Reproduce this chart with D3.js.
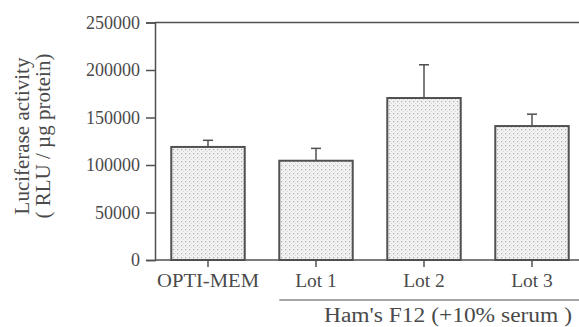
<!DOCTYPE html>
<html>
<head>
<meta charset="utf-8">
<script src="https://cdn.jsdelivr.net/npm/d3@7"></script>
<style>
  html, body { margin: 0; padding: 0; background: #fff; }
  svg { display: block; }
  text { font-family: "Liberation Serif", "Times New Roman", serif; fill: #4a4a4a; }
</style>
</head>
<body>
<svg id="chart" width="579" height="327"></svg>
<script>
const categories = ["OPTI-MEM", "Lot 1", "Lot 2", "Lot 3"];
const values = [119000, 104500, 170500, 141000];
const errors = [7000, 13000, 35000, 12500];
const yTicks = [0, 50000, 100000, 150000, 200000, 250000];
const yLabelLines = ["Luciferase activity", "( RLU / \u00b5g protein)"];
const groupLabel = "Ham's F12 (+10% serum )";
const groupMembers = ["Lot 1", "Lot 2", "Lot 3"];

const W = 579, H = 327;
const svg = d3.select("#chart");
const ink = "#505050";

const x = d3.scaleBand().domain(categories).range([154, 586]).paddingInner(0.32).paddingOuter(0.16);
const y = d3.scaleLinear().domain([0, 250000]).range([260, 22.5]);

// pattern
const defs = svg.append("defs");
const pat = defs.append("pattern").attr("id", "dots").attr("patternUnits", "userSpaceOnUse")
  .attr("width", 4).attr("height", 4);
pat.append("rect").attr("width", 4).attr("height", 4).attr("fill", "#f2f2f2");
pat.append("rect").attr("x", 1).attr("y", 1).attr("width", 1.2).attr("height", 1.2).attr("fill", "#acacac");
pat.append("rect").attr("x", 3).attr("y", 3).attr("width", 1).attr("height", 1).attr("fill", "#d2d2d2");

// bars
svg.append("g").selectAll("rect").data(categories).join("rect")
  .attr("x", d => x(d))
  .attr("y", (d, i) => y(values[i]))
  .attr("width", x.bandwidth())
  .attr("height", (d, i) => y(0) - y(values[i]))
  .attr("fill", "url(#dots)")
  .attr("stroke", ink)
  .attr("stroke-width", 2);

// error bars
const eg = svg.append("g").attr("stroke", ink).attr("stroke-width", 1.5);
categories.forEach((c, i) => {
  const cx = x(c) + x.bandwidth() / 2;
  eg.append("line").attr("x1", cx).attr("x2", cx)
    .attr("y1", y(values[i])).attr("y2", y(values[i] + errors[i]));
  eg.append("line").attr("x1", cx - 5).attr("x2", cx + 5)
    .attr("y1", y(values[i] + errors[i])).attr("y2", y(values[i] + errors[i]));
});

// y axis
const yAxis = d3.axisLeft(y).tickValues(yTicks).tickFormat(d3.format("d")).tickSize(9).tickPadding(6);
const ya = svg.append("g").attr("transform", "translate(155,0)").call(yAxis);
ya.select(".domain").attr("stroke", ink).attr("stroke-width", 1.5);
ya.selectAll(".tick line").attr("stroke", ink).attr("stroke-width", 1.5);
ya.selectAll(".tick text").attr("font-size", 18).attr("fill", "#4a4a4a")
  .attr("font-family", "Liberation Serif, serif");

// top frame line
svg.append("line").attr("x1", 155).attr("x2", W).attr("y1", y(250000)).attr("y2", y(250000))
  .attr("stroke", ink).attr("stroke-width", 1.5);

// x axis
const xAxis = d3.axisBottom(x).tickSize(7).tickPadding(6).tickSizeOuter(0);
const xa = svg.append("g").attr("transform", `translate(0,${y(0)})`).call(xAxis);
xa.select(".domain").remove();
xa.selectAll(".tick line").attr("stroke", ink).attr("stroke-width", 1.5);
xa.selectAll(".tick text").attr("font-size", 19.5).attr("fill", "#4a4a4a")
  .attr("font-family", "Liberation Serif, serif").attr("dy", "0.72em");
xa.selectAll(".tick text").filter(d => d === categories[0])
  .attr("textLength", 102).attr("lengthAdjust", "spacingAndGlyphs");
svg.append("line").attr("x1", 155).attr("x2", W).attr("y1", y(0)).attr("y2", y(0))
  .attr("stroke", ink).attr("stroke-width", 1.5);

// group bracket
const gx0 = x(groupMembers[0]);
svg.append("line").attr("x1", gx0).attr("x2", W).attr("y1", 300).attr("y2", 300)
  .attr("stroke", ink).attr("stroke-width", 1.2);
svg.append("text").attr("x", 448).attr("y", 322).attr("text-anchor", "middle")
  .attr("font-size", 20).attr("textLength", 248).attr("lengthAdjust", "spacingAndGlyphs")
  .text(groupLabel);

// y label
const yl = svg.append("g").attr("transform", "translate(0,136) rotate(-90)");
yl.append("text").attr("x", 0).attr("y", 28.5).attr("text-anchor", "middle")
  .attr("font-size", 21).text(yLabelLines[0]);
yl.append("text").attr("x", 0).attr("y", 49.5).attr("text-anchor", "middle")
  .attr("font-size", 21).text(yLabelLines[1]);
</script>
</body>
</html>
